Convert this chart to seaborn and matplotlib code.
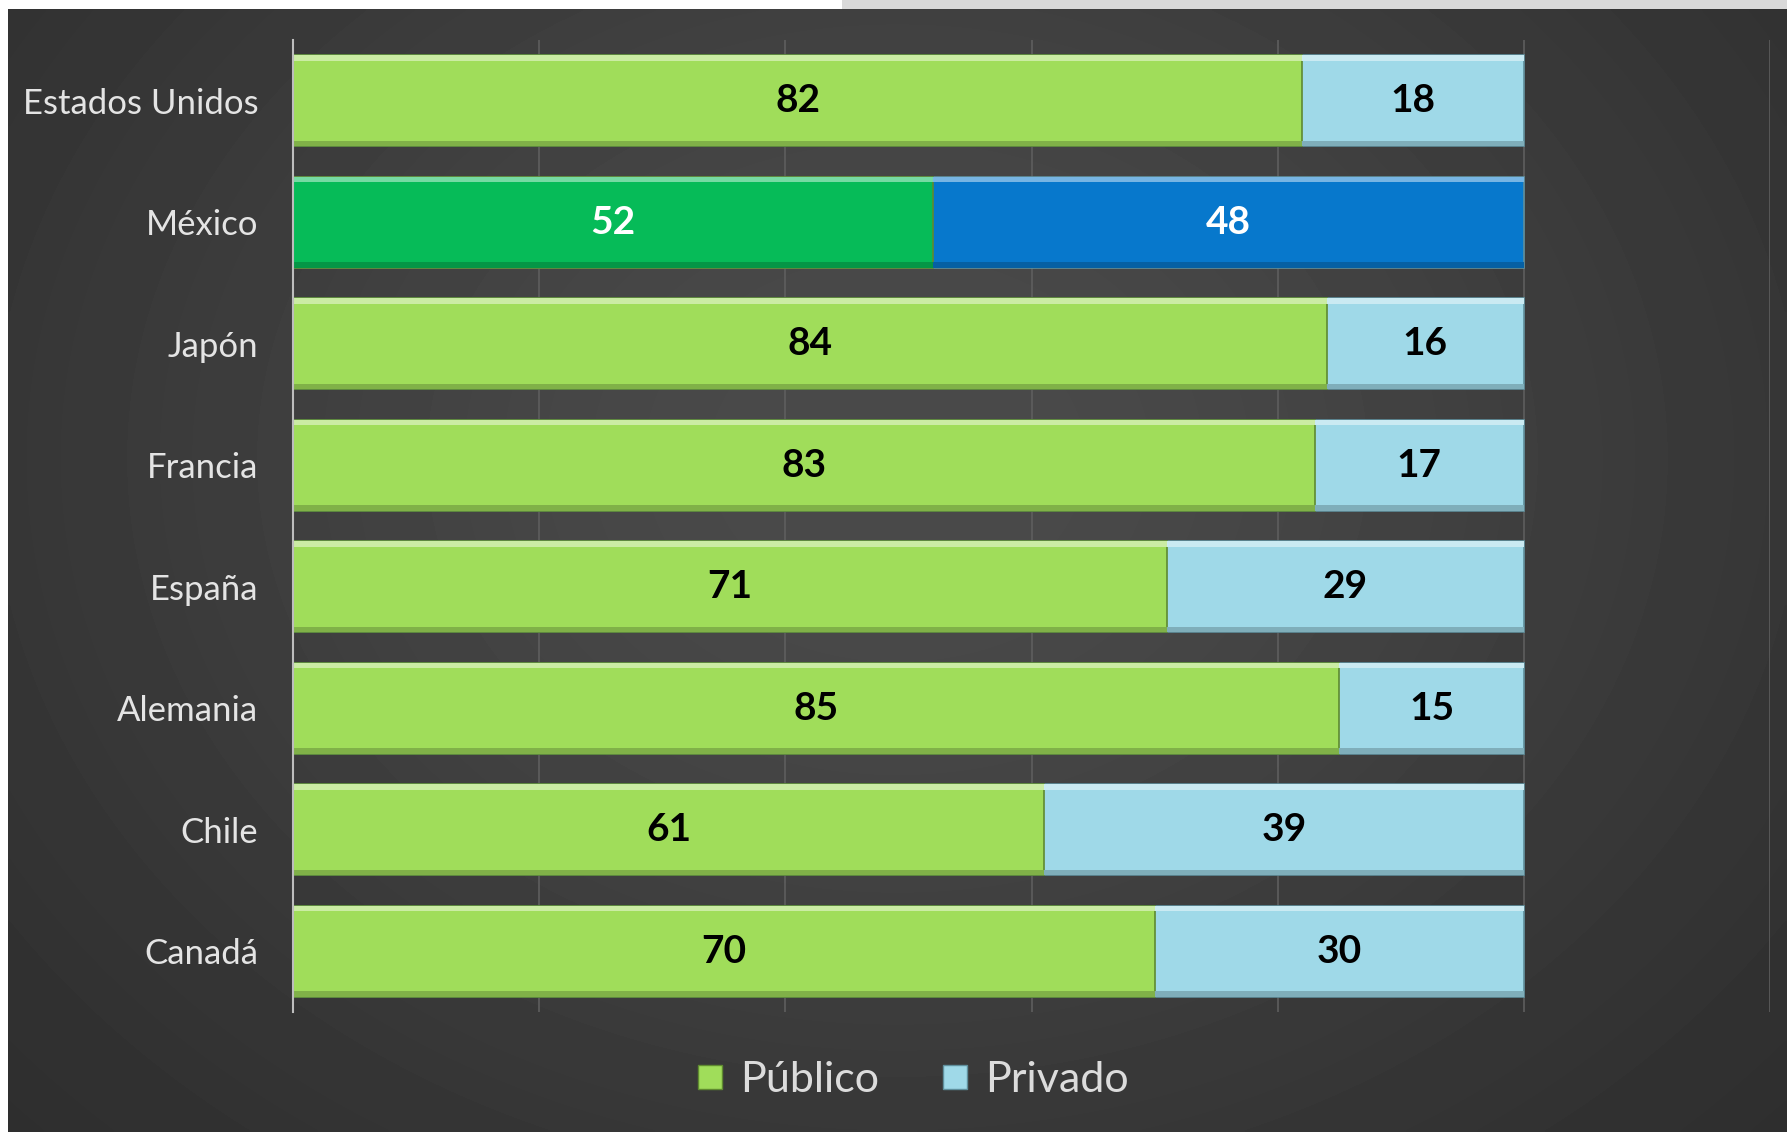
import numpy as np
import pandas as pd
import seaborn as sns
import matplotlib.pyplot as plt
from matplotlib.lines import Line2D
from matplotlib.patches import Rectangle
from matplotlib.colors import to_rgb

# datos
paises = ["Estados Unidos", "México", "Japón", "Francia", "España", "Alemania", "Chile", "Canadá"]
publico = [82, 52, 84, 83, 71, 85, 61, 70]
privado = [18, 48, 16, 17, 29, 15, 39, 30]
series = ["Público", "Privado"]

verde = "#a0dd5a"
celeste = "#9fd9e8"
verde_mx = "#06bb58"
azul_mx = "#0778cc"

df = pd.DataFrame({"pais": paises, "publico": publico, "privado": privado})
df["total"] = df["publico"] + df["privado"]

sns.set_theme(style="dark")
plt.rcParams["font.family"] = ["Lato", "DejaVu Sans"]

W, H = 1787, 1132
fig = plt.figure(figsize=(W / 100, H / 100), dpi=100)
fig.patch.set_facecolor("white")

# fondo oscuro con degradado suave
bg = fig.add_axes([8 / W, 0, 1 - 8 / W, 1 - 9 / H])
yy, xx = np.mgrid[0:1:300j, 0:1:400j]
r2 = ((xx - 0.5) / 0.55) ** 2 + ((yy - 0.4) / 0.7) ** 2
vals = 0x27 + (0x4a - 0x27) * np.exp(-r2)
bg.imshow(vals, cmap="gray", vmin=0, vmax=255, aspect="auto", interpolation="bilinear")
bg.axis("off")
fig.patches.append(Rectangle((842 / W, 1 - 9 / H), 1, 9 / H, transform=fig.transFigure,
                             facecolor="#d9d9d9", edgecolor="none"))

ax = fig.add_axes([293 / W, 1 - 1012 / H, (1770 - 293) / W, (1012 - 40) / H])
ax.set_facecolor("none")

col_priv = {p: (azul_mx if p == "México" else celeste) for p in paises}
col_pub = {p: (verde_mx if p == "México" else verde) for p in paises}

# barra total (privado) y encima la parte pública
sns.barplot(data=df, y="pais", x="total", hue="pais", palette=col_priv, orient="h",
            width=0.75, ax=ax, legend=False, saturation=1, edgecolor="#5f8f9c", linewidth=1.2)
sns.barplot(data=df, y="pais", x="publico", hue="pais", palette=col_pub, orient="h",
            width=0.75, ax=ax, legend=False, saturation=1, edgecolor="#5f8a30", linewidth=1.2)

# brillo superior y sombra inferior para imitar el bisel
for bar in list(ax.patches):
    x, y, w, h = bar.get_x(), bar.get_y(), bar.get_width(), bar.get_height()
    fc = np.array(to_rgb(bar.get_facecolor()))
    luz = fc + (1 - fc) * 0.45
    sombra = fc * 0.8
    ax.add_patch(Rectangle((x, y), w, h * 0.06, facecolor=luz, edgecolor="none", zorder=bar.get_zorder() + 0.1))
    ax.add_patch(Rectangle((x, y + h * 0.94), w, h * 0.06, facecolor=sombra, edgecolor="none", zorder=bar.get_zorder() + 0.1))

for i, p in enumerate(paises):
    c = "white" if p == "México" else "black"
    ax.text(publico[i] / 2, i, str(publico[i]), ha="center", va="center",
            fontsize=28, fontweight="bold", color=c, zorder=5)
    ax.text(publico[i] + privado[i] / 2, i, str(privado[i]), ha="center", va="center",
            fontsize=28, fontweight="bold", color=c, zorder=5)

ax.set_xlim(0, 120)
ax.set_ylim(7.5, -0.5)
ax.set_xticks(range(0, 121, 20))
ax.set_xticklabels([])
ax.set_xlabel("")
ax.set_ylabel("")
ax.grid(axis="x", color="#5e5e5e", linewidth=1.2)
ax.set_axisbelow(True)
ax.tick_params(axis="y", labelsize=25, labelcolor="#e4e4e4", pad=25, length=0)
ax.tick_params(axis="x", length=0)
for s in ["top", "right", "bottom"]:
    ax.spines[s].set_visible(False)
ax.spines["left"].set_color("#bdbdbd")
ax.spines["left"].set_linewidth(1.5)

handles = [Line2D([], [], marker="s", linestyle="none", markersize=17,
                  markerfacecolor=verde, markeredgecolor="#5f8a30"),
           Line2D([], [], marker="s", linestyle="none", markersize=17,
                  markerfacecolor=celeste, markeredgecolor="#5f8f9c")]
leg = fig.legend(handles, series, loc="center", bbox_to_anchor=(912 / W, 1 - 1080 / H),
                 ncol=2, frameon=False, fontsize=31, handlelength=0.7, handletextpad=0.35,
                 columnspacing=1.4, labelcolor="#dcdcdc")

fig.savefig("out.png", dpi=100)
